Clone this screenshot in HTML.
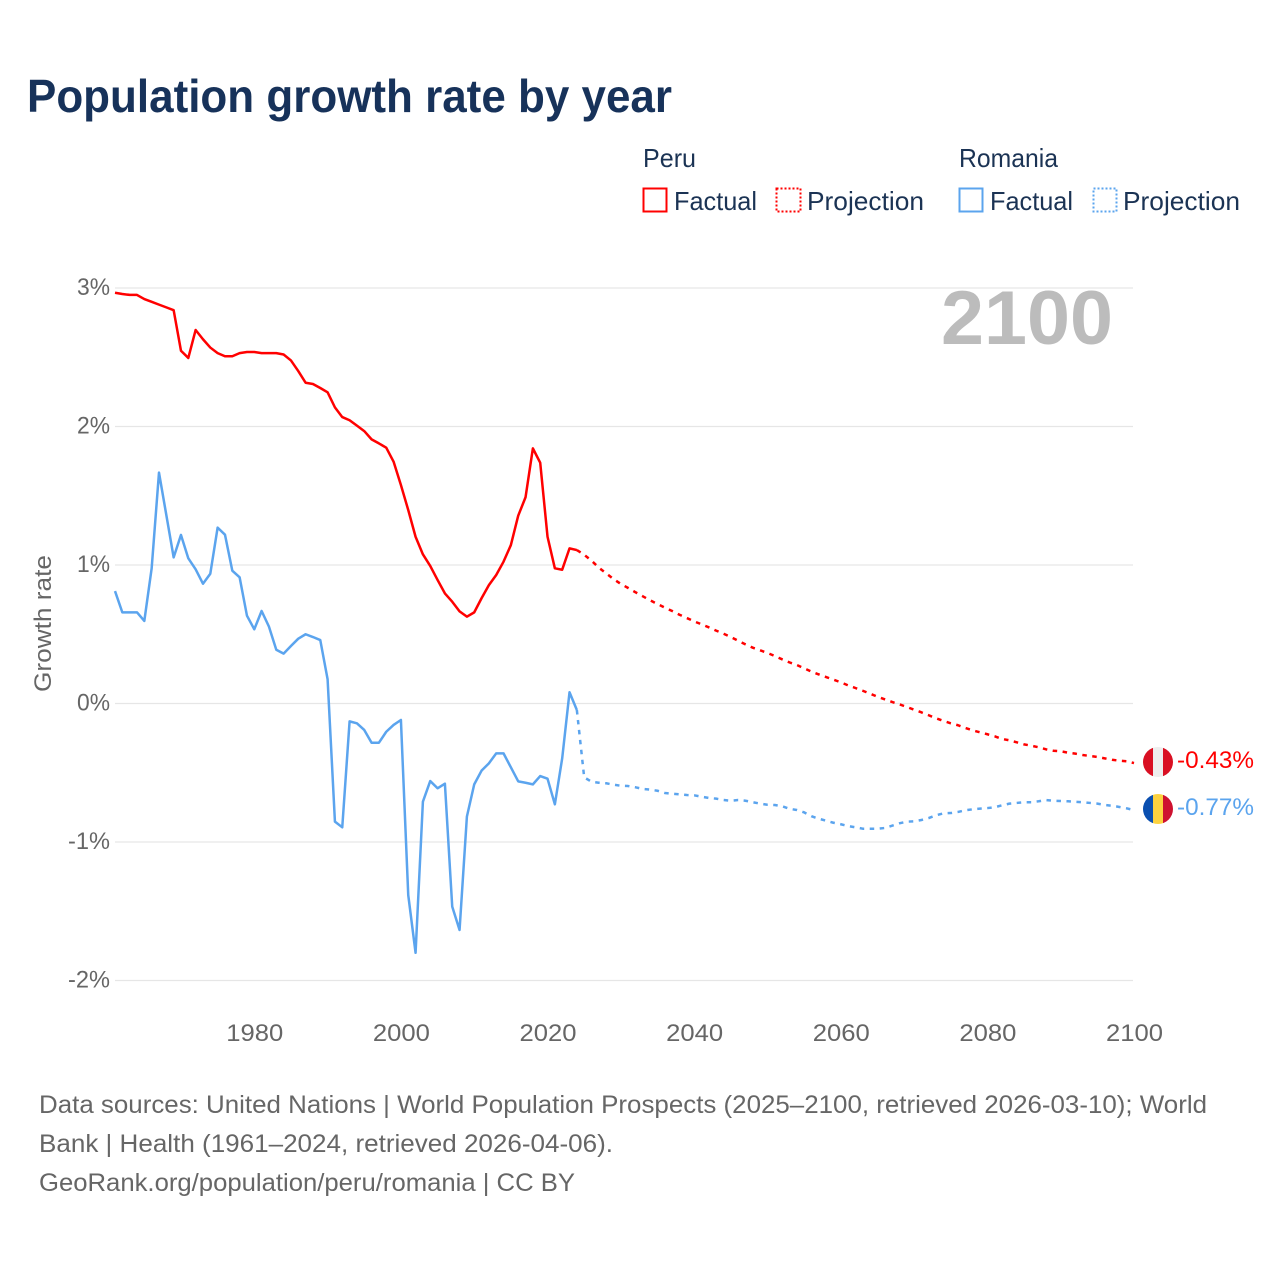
<!DOCTYPE html>
<html lang="en">
<head>
<meta charset="utf-8">
<title>Population growth rate by year</title>
<style>
html,body{margin:0;padding:0;background:#fff;}
svg{display:block;font-family:"Liberation Sans",sans-serif;}
</style>
</head>
<body>
<svg id="chart" width="1280" height="1280" viewBox="0 0 1280 1280" xmlns="http://www.w3.org/2000/svg">
  <defs>
    <clipPath id="clip-peru"><circle cx="1158" cy="762" r="15"/></clipPath>
    <clipPath id="clip-romania"><circle cx="1158" cy="809" r="15"/></clipPath>
  </defs>
  <rect x="0" y="0" width="1280" height="1280" fill="#fff"/>
  <text x="27" y="112" font-size="46" font-weight="700" fill="#17325a" textLength="645" lengthAdjust="spacingAndGlyphs">Population growth rate by year</text>

  <g font-size="26" fill="#1b3354">
    <text x="643" y="167" textLength="53" lengthAdjust="spacingAndGlyphs">Peru</text>
    <rect x="643.5" y="188.5" width="23" height="23" fill="none" stroke="#ff0000" stroke-width="2"/>
    <text x="674" y="210" textLength="83" lengthAdjust="spacingAndGlyphs">Factual</text>
    <rect x="776.5" y="188.5" width="24" height="23" fill="none" stroke="#ff0000" stroke-width="2" stroke-dasharray="2 2"/>
    <text x="807" y="210" textLength="117" lengthAdjust="spacingAndGlyphs">Projection</text>
    <text x="959" y="167" textLength="99" lengthAdjust="spacingAndGlyphs">Romania</text>
    <rect x="959.5" y="188.5" width="23" height="23" fill="none" stroke="#5ba4ee" stroke-width="2"/>
    <text x="990" y="210" textLength="83" lengthAdjust="spacingAndGlyphs">Factual</text>
    <rect x="1093.5" y="188.5" width="23" height="23" fill="none" stroke="#5ba4ee" stroke-width="2" stroke-dasharray="2 2"/>
    <text x="1123" y="210" textLength="117" lengthAdjust="spacingAndGlyphs">Projection</text>
  </g>

  <g id="grid"></g>
  <g id="y-ticks"></g>
  <g id="x-ticks"></g>

  <text transform="translate(51 692) rotate(-90)" x="0" y="0" font-size="24" fill="#666" textLength="137" lengthAdjust="spacingAndGlyphs">Growth rate</text>
  <text x="941" y="344" font-size="76" font-weight="700" fill="#bcbcbc" textLength="172" lengthAdjust="spacingAndGlyphs">2100</text>

  <g id="series"></g>

  <g clip-path="url(#clip-peru)">
    <rect x="1143" y="747" width="10" height="30" fill="#d91023"/>
    <rect x="1153" y="747" width="10" height="30" fill="#eeeeee"/>
    <rect x="1163" y="747" width="10" height="30" fill="#d91023"/>
  </g>
  <g clip-path="url(#clip-romania)">
    <rect x="1143" y="794" width="10" height="30" fill="#0a4fb0"/>
    <rect x="1153" y="794" width="10" height="30" fill="#fcd240"/>
    <rect x="1163" y="794" width="10" height="30" fill="#ce1130"/>
  </g>
  <text id="label-peru" x="1177" y="768" font-size="24" fill="#ff0000" textLength="77" lengthAdjust="spacingAndGlyphs"></text>
  <text id="label-romania" x="1177" y="815" font-size="24" fill="#5ba4ee" textLength="77" lengthAdjust="spacingAndGlyphs"></text>

  <g font-size="25" fill="#666">
    <text x="39" y="1113" textLength="1168" lengthAdjust="spacingAndGlyphs">Data sources: United Nations | World Population Prospects (2025–2100, retrieved 2026-03-10); World</text>
    <text x="39" y="1152" textLength="574" lengthAdjust="spacingAndGlyphs">Bank | Health (1961–2024, retrieved 2026-04-06).</text>
    <text x="39" y="1191" textLength="536" lengthAdjust="spacingAndGlyphs">GeoRank.org/population/peru/romania | CC BY</text>
  </g>
</svg>
<script>
var factualStartYear = 1961;
var projectionStartYear = 2024;
var peruFactual = [2.966,2.957,2.95,2.95,2.92,2.90,2.88,2.86,2.84,2.547,
  2.495,2.697,2.63,2.57,2.53,2.507,2.507,2.53,2.538,2.538,
  2.53,2.53,2.53,2.52,2.477,2.40,2.316,2.307,2.278,2.247,
  2.138,2.068,2.045,2.006,1.967,1.907,1.878,1.847,1.746,1.578,
  1.397,1.204,1.077,0.993,0.892,0.795,0.735,0.665,0.627,0.658,
  0.76,0.855,0.928,1.024,1.144,1.356,1.489,1.842,1.739,1.204,
  0.976,0.966,1.12,1.108];
var romaniaFactual = [0.812,0.658,0.658,0.658,0.596,0.976,1.667,1.361,1.055,1.217,
  1.048,0.969,0.865,0.937,1.27,1.219,0.959,0.911,0.634,0.536,
  0.668,0.555,0.388,0.36,0.415,0.468,0.50,0.48,0.458,0.175,
  -0.853,-0.894,-0.129,-0.143,-0.191,-0.283,-0.283,-0.204,-0.155,-0.119,
  -1.383,-1.80,-0.709,-0.56,-0.612,-0.579,-1.467,-1.635,-0.817,-0.584,
  -0.485,-0.432,-0.36,-0.36,-0.461,-0.562,-0.572,-0.584,-0.524,-0.543,
  -0.728,-0.396,0.081,-0.047];
var peruProjection = [1.108,1.074,1.031,0.981,0.94,0.899,0.863,0.834,0.803,0.774,0.745,
  0.718,0.692,0.668,0.641,0.617,0.593,0.572,0.55,0.526,0.504,
  0.48,0.453,0.427,0.403,0.384,0.365,0.343,0.319,0.297,0.278,
  0.254,0.23,0.21,0.191,0.172,0.153,0.131,0.112,0.092,0.071,
  0.049,0.03,0.011,-0.006,-0.025,-0.045,-0.064,-0.085,-0.107,-0.126,
  -0.143,-0.157,-0.177,-0.194,-0.208,-0.222,-0.237,-0.256,-0.266,-0.28,
  -0.295,-0.305,-0.316,-0.331,-0.341,-0.345,-0.355,-0.362,-0.372,-0.379,
  -0.386,-0.396,-0.406,-0.413,-0.417,-0.43];
var romaniaProjection = [-0.047,-0.533,-0.565,-0.572,-0.576,-0.586,-0.594,-0.596,-0.605,-0.617,-0.622,
  -0.63,-0.646,-0.651,-0.656,-0.661,-0.663,-0.673,-0.682,-0.687,-0.697,
  -0.702,-0.697,-0.702,-0.713,-0.723,-0.731,-0.733,-0.742,-0.76,-0.769,
  -0.786,-0.814,-0.832,-0.846,-0.861,-0.872,-0.885,-0.894,-0.904,-0.904,
  -0.904,-0.899,-0.882,-0.865,-0.853,-0.851,-0.841,-0.827,-0.807,-0.793,
  -0.791,-0.783,-0.771,-0.764,-0.759,-0.755,-0.749,-0.735,-0.723,-0.718,
  -0.713,-0.713,-0.706,-0.697,-0.702,-0.704,-0.706,-0.71,-0.713,-0.718,
  -0.723,-0.733,-0.738,-0.747,-0.757,-0.77];
var yTickValues = [3,2,1,0,-1,-2];
var yTickLabels = ['3%','2%','1%','0%','-1%','-2%'];
var xTickValues = [1980,2000,2020,2040,2060,2080,2100];
var xTickLabels = ['1980','2000','2020','2040','2060','2080','2100'];
var endLabelPeru = '-0.43%';
var endLabelRomania = '-0.77%';

var SVGNS = 'http://www.w3.org/2000/svg';
function xScale(year){ return 115 + (year - 1961) * 7.331; }
function yScale(v){ return 703.5 - v * 138.5; }
function linePoints(values, startYear){
  var pts = [];
  for (var i = 0; i < values.length; i++) {
    pts.push(xScale(startYear + i).toFixed(2) + ',' + yScale(values[i]).toFixed(2));
  }
  return pts.join(' ');
}
function drawLine(values, startYear, color, dashed, name){
  var el = document.createElementNS(SVGNS, 'polyline');
  
  
  el.setAttribute('points', linePoints(values, startYear));
  el.setAttribute('fill', 'none');
  el.setAttribute('stroke', color);
  el.setAttribute('stroke-width', '2.5');
  el.setAttribute('stroke-linejoin', 'round');
  if (dashed) { el.setAttribute('stroke-dasharray', '4.5 5.5'); }
  document.getElementById('series').appendChild(el);
}
yTickValues.forEach(function(v, i){
  var line = document.createElementNS(SVGNS, 'line');
  
  
  line.setAttribute('x1', 115);
  line.setAttribute('x2', 1133);
  line.setAttribute('y1', yScale(v));
  line.setAttribute('y2', yScale(v));
  line.setAttribute('stroke', '#e6e6e6');
  line.setAttribute('stroke-width', '1.2');
  document.getElementById('grid').appendChild(line);
  var t = document.createElementNS(SVGNS, 'text');
  
  
  t.setAttribute('x', 110);
  t.setAttribute('y', yScale(v) + 7);
  t.setAttribute('text-anchor', 'end');
  t.setAttribute('font-size', '24');
  t.setAttribute('fill', '#666');
  t.setAttribute('textLength', yTickLabels[i].length > 2 ? '42' : '33');
  t.setAttribute('lengthAdjust', 'spacingAndGlyphs');
  t.textContent = yTickLabels[i];
  document.getElementById('y-ticks').appendChild(t);
});
xTickValues.forEach(function(year, i){
  var t = document.createElementNS(SVGNS, 'text');
  
  
  t.setAttribute('x', xScale(year) + 0.5);
  t.setAttribute('y', 1041);
  t.setAttribute('text-anchor', 'middle');
  t.setAttribute('font-size', '24');
  t.setAttribute('fill', '#666');
  t.setAttribute('textLength', '57');
  t.setAttribute('lengthAdjust', 'spacingAndGlyphs');
  t.textContent = xTickLabels[i];
  document.getElementById('x-ticks').appendChild(t);
});
drawLine(romaniaProjection, projectionStartYear, '#5ba4ee', true, 'romania-projection-line');
drawLine(romaniaFactual, factualStartYear, '#5ba4ee', false, 'romania-factual-line');
drawLine(peruProjection, projectionStartYear, '#ff0000', true, 'peru-projection-line');
drawLine(peruFactual, factualStartYear, '#ff0000', false, 'peru-factual-line');
document.getElementById('label-peru').textContent = endLabelPeru;
document.getElementById('label-romania').textContent = endLabelRomania;
</script>
</body>
</html>
